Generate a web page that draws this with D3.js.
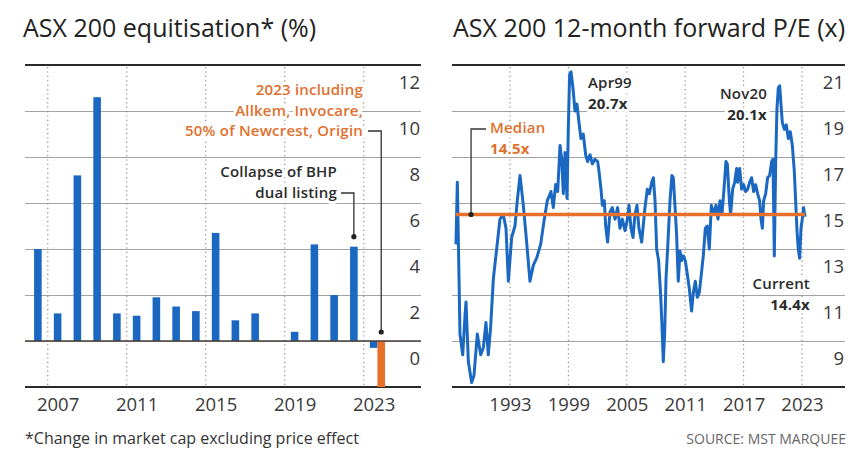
<!DOCTYPE html>
<html>
<head>
<meta charset="utf-8">
<script src="https://cdn.jsdelivr.net/npm/d3@7"></script>
<style>
  body { margin: 0; background: #fff; }
  svg text { font-family: "Open Sans", "DejaVu Sans", sans-serif; }
  .grid line { stroke: #a3a3a3; stroke-width: 1; }
  .grid .domain { display: none; }
  .axis .domain { display: none; }
  .axis text { font-size: 18.5px; fill: #3a3a3a; }
  .halo { stroke: #fff; stroke-width: 6; stroke-linejoin: round; paint-order: stroke; }
</style>
</head>
<body>
<div id="graphic"></div>
<script>
// ---- left chart: ASX 200 equitisation (%) ----
const eqYears = [2006, 2007, 2008, 2009, 2010, 2011, 2012, 2013, 2014, 2015, 2016, 2017, 2018, 2019, 2020, 2021, 2022, 2023];
const eqValues = [4.0, 1.2, 7.2, 10.6, 1.2, 1.1, 1.9, 1.5, 1.3, 4.7, 0.9, 1.2, 0, 0.4, 4.2, 2.0, 4.1, -0.3];
// 2023 including Allkem, Invocare, 50% of Newcrest, Origin
const eqDealYear = 2023;
const eqDealValue = -2.0;
const eqYTicks = [0, 2, 4, 6, 8, 10, 12];
const eqXTicks = [2007, 2011, 2015, 2019, 2023];

// ---- right chart: ASX 200 12-month forward P/E (x) ----
const peDates = [1987.45, 1987.59, 1987.73, 1987.86, 1988.14, 1988.38, 1988.48, 1988.72, 1989.06, 1989.30,
  1989.64, 1989.99, 1990.26, 1990.53, 1990.77, 1991.01, 1991.29, 1991.63, 1991.97, 1992.31,
  1992.59, 1992.83, 1993.17, 1993.51, 1993.75, 1994.03, 1994.37, 1994.71, 1995.05, 1995.40,
  1995.74, 1996.15, 1996.49, 1996.83, 1997.21, 1997.45, 1997.69, 1997.90, 1998.14, 1998.31,
  1998.48, 1998.65, 1998.86, 1998.99, 1999.13, 1999.27, 1999.47, 1999.68, 1999.88, 2000.09,
  2000.29, 2000.53, 2000.77, 2000.98, 2001.22, 2001.46, 2001.73, 2002.01, 2002.14, 2002.35,
  2002.49, 2002.69, 2002.83, 2003.03, 2003.27, 2003.51, 2003.79, 2004.06, 2004.30, 2004.54,
  2004.82, 2005.02, 2005.23, 2005.43, 2005.64, 2005.84, 2006.05, 2006.25, 2006.53, 2006.87,
  2007.11, 2007.32, 2007.56, 2007.73, 2007.90, 2008.07, 2008.27, 2008.48, 2008.62, 2008.75,
  2008.89, 2009.03, 2009.23, 2009.44, 2009.64, 2009.78, 2009.95, 2010.12, 2010.29, 2010.47,
  2010.64, 2010.81, 2011.01, 2011.22, 2011.42, 2011.66, 2011.84, 2012.04, 2012.25, 2012.45,
  2012.66, 2012.86, 2013.07, 2013.27, 2013.48, 2013.69, 2013.89, 2014.17, 2014.37, 2014.58,
  2014.78, 2014.99, 2015.19, 2015.33, 2015.54, 2015.67, 2015.88, 2016.08, 2016.29, 2016.39,
  2016.60, 2016.80, 2017.01, 2017.21, 2017.42, 2017.62, 2017.83, 2018.03, 2018.24, 2018.45,
  2018.65, 2018.79, 2018.93, 2019.06, 2019.27, 2019.47, 2019.68, 2019.88, 2020.02, 2020.16,
  2020.30, 2020.43, 2020.57, 2020.71, 2020.84, 2020.98, 2021.19, 2021.39, 2021.60, 2021.80,
  2022.01, 2022.21, 2022.35, 2022.49, 2022.62, 2022.76, 2022.90, 2023.03, 2023.17, 2023.31];
const peValues = [13.2, 15.9, 12.5, 9.3, 8.4, 10.1, 10.7, 8.1, 7.2, 7.5,
  9.3, 8.4, 8.7, 9.8, 8.4, 9.6, 11.7, 13.0, 14.3, 14.5,
  13.9, 11.6, 13.5, 14.0, 15.1, 16.2, 14.9, 13.3, 11.6, 12.3,
  12.6, 13.2, 14.2, 15.1, 15.5, 14.8, 15.8, 15.5, 17.5, 16.9,
  15.4, 17.2, 15.2, 18.2, 20.6, 20.7, 20.0, 19.0, 19.3, 18.5,
  17.8, 18.0, 17.1, 16.8, 17.1, 16.7, 16.9, 16.8, 16.4, 15.6,
  14.9, 15.1, 14.0, 13.3, 14.6, 14.8, 14.3, 14.8, 13.9, 14.3,
  13.8, 14.2, 14.9, 13.9, 13.5, 14.5, 14.9, 13.9, 13.3, 14.8,
  15.6, 15.4, 15.9, 16.1, 15.1, 13.0, 12.5, 11.0, 9.6, 8.1,
  9.3, 11.7, 13.3, 15.1, 16.2, 16.1, 14.9, 13.6, 11.6, 12.9,
  12.5, 12.7, 12.5, 11.9, 11.3, 10.3, 11.1, 11.6, 10.9, 11.1,
  11.9, 12.7, 13.9, 14.0, 13.0, 14.9, 14.5, 14.9, 14.3, 15.1,
  14.5, 15.6, 16.8, 16.7, 15.1, 14.5, 15.6, 15.9, 16.5, 15.9,
  16.5, 15.6, 15.8, 15.5, 15.6, 15.9, 16.1, 15.5, 15.8, 15.4,
  15.1, 14.3, 13.9, 15.1, 15.4, 16.1, 16.2, 16.8, 16.9, 12.7,
  16.8, 19.1, 20.0, 20.1, 19.3, 18.5, 18.2, 18.4, 17.8, 18.1,
  17.5, 16.4, 15.1, 13.8, 13.0, 12.6, 13.9, 14.3, 14.8, 14.4];
const peMedian = 14.5;
const peYTicks = [9, 11, 13, 15, 17, 19, 21];
const peXTicks = [1993, 1999, 2005, 2011, 2017, 2023];

const blue = '#1b68c3';
const orange = '#e8702b';
const orangeText = '#e0702e';
const dark = '#2b2b2b';

const width = 854, height = 450;

const svg = d3.select('#graphic')
  .append('svg')
  .attr('width', width)
  .attr('height', height)
  .style('background', '#fff');

// shared vertical layout
const plotTop = 65, plotBottom = 387;

// leader line + dot helper
function leader(points, dot) {
  svg.append('path')
    .attr('d', d3.line()(points))
    .attr('fill', 'none')
    .attr('stroke', '#333')
    .attr('stroke-width', 1.3);
  svg.append('circle')
    .attr('cx', dot[0]).attr('cy', dot[1]).attr('r', 2.6)
    .attr('fill', '#222');
}

// multi-line annotation, one text element with a tspan per line
function label(lines, x, y, anchor, colour) {
  const t = svg.append('text')
    .attr('class', 'halo')
    .attr('x', x)
    .attr('y', y)
    .attr('text-anchor', anchor)
    .attr('fill', colour)
    .style('font-size', '15px')
    .style('letter-spacing', '0.2px');
  lines.forEach((l, i) => {
    t.append('tspan')
      .attr('x', x)
      .attr('dy', i === 0 ? 0 : 20.5)
      .style('font-weight', l.bold ? 700 : 600)
      .text(l.text);
  });
}

function panel(opts) {
  const { x, y, left, right, yTicks, xTicks, xLabelShift } = opts;

  // horizontal grid
  svg.append('g')
    .attr('class', 'grid')
    .attr('transform', `translate(${left},0)`)
    .call(d3.axisLeft(y).tickValues(yTicks).tickSize(-(right - left)).tickFormat(''))
    .call(g => g.selectAll('.tick line').attr('x1', 0));

  // dotted year lines
  svg.append('g')
    .selectAll('line')
    .data(xTicks)
    .join('line')
    .attr('x1', d => x(d)).attr('x2', d => x(d))
    .attr('y1', plotTop + 2).attr('y2', plotBottom - 1)
    .attr('stroke', '#8a8a8a')
    .attr('stroke-width', 1.2)
    .attr('stroke-dasharray', '1.2,3.2');

  // top and bottom rules
  [plotTop, plotBottom].forEach(yy => {
    svg.append('line')
      .attr('x1', left).attr('x2', right)
      .attr('y1', yy).attr('y2', yy)
      .attr('stroke', '#2a2a2a')
      .attr('stroke-width', 2);
  });

  // y labels, sitting just under their gridline
  svg.append('g')
    .attr('class', 'axis')
    .attr('transform', `translate(${right - 1},0)`)
    .call(d3.axisLeft(y).tickValues(yTicks).tickSize(0).tickPadding(0))
    .call(g => g.selectAll('text').attr('dy', null).attr('y', 23));

  // x labels
  svg.append('g')
    .attr('class', 'axis')
    .attr('transform', `translate(0,${plotBottom})`)
    .call(d3.axisBottom(x).tickValues(xTicks.map(d => d + xLabelShift)).tickSize(0).tickFormat(d => Math.floor(d)))
    .call(g => g.selectAll('text').attr('dy', null).attr('y', 24));
}

// ===== left: equitisation bars =====
const eqX = d3.scaleLinear().domain([2006, 2026]).range([28, 423]);
const eqY = d3.scaleLinear().domain([-2, 12]).range([plotBottom, plotTop]);
const barW = 7.6;

panel({ x: eqX, y: eqY, left: 25, right: 421, yTicks: eqYTicks, xTicks: eqXTicks, xLabelShift: 0.5 });

svg.append('g')
  .selectAll('rect')
  .data(eqYears.map((yr, i) => ({ year: yr, value: eqValues[i] })).filter(d => d.value !== 0))
  .join('rect')
  .attr('x', d => eqX(d.year + 0.5) - barW / 2)
  .attr('y', d => eqY(Math.max(0, d.value)))
  .attr('width', barW)
  .attr('height', d => Math.abs(eqY(d.value) - eqY(0)))
  .attr('fill', blue);

svg.append('rect')
  .attr('x', eqX(eqDealYear + 0.5) + barW / 2)
  .attr('y', eqY(0))
  .attr('width', barW)
  .attr('height', eqY(eqDealValue) - eqY(0))
  .attr('fill', orange);

// zero line
svg.append('line')
  .attr('x1', 25).attr('x2', 421)
  .attr('y1', eqY(0)).attr('y2', eqY(0))
  .attr('stroke', '#4a4038')
  .attr('stroke-width', 1.6);

// annotations
const bhpX = eqX(2022.5);
leader([[341, 193], [bhpX, 193], [bhpX, eqY(eqValues[16]) - 10]], [bhpX, eqY(eqValues[16]) - 10]);
label([{ text: 'Collapse of BHP' }, { text: 'dual listing' }], 337, 177, 'end', dark);

const dealX = eqX(eqDealYear + 0.5) + barW;
leader([[368, 131], [dealX, 131], [dealX, eqY(0) - 9]], [dealX, eqY(0) - 9]);
label([{ text: '2023 including' }, { text: 'Allkem, Invocare,' }, { text: '50% of Newcrest, Origin' }], 363, 95, 'end', orangeText);

// ===== right: forward P/E line =====
const peX = d3.scaleLinear().domain([1987, 2027]).range([451.6, 840.9]);
const peY = d3.scaleLinear().domain([7, 21]).range([plotBottom, plotTop]);
const peData = peDates.map((d, i) => ({ date: d, value: peValues[i] }));

panel({ x: peX, y: peY, left: 452, right: 845, yTicks: peYTicks, xTicks: peXTicks, xLabelShift: 0 });

svg.append('path')
  .datum(peData)
  .attr('fill', 'none')
  .attr('stroke', blue)
  .attr('stroke-width', 3)
  .attr('stroke-linejoin', 'round')
  .attr('d', d3.line().x(d => peX(d.date)).y(d => peY(d.value)));

const [d0, d1] = d3.extent(peDates);
svg.append('line')
  .attr('x1', peX(d0)).attr('x2', peX(d1))
  .attr('y1', peY(peMedian)).attr('y2', peY(peMedian))
  .attr('stroke', orange)
  .attr('stroke-width', 3.5);

const medX = peX(1989);
leader([[486, 129], [medX, 129], [medX, peY(peMedian)]], [medX, peY(peMedian)]);
label([{ text: 'Median' }, { text: '14.5x', bold: true }], 490, 133, 'start', orangeText);

label([{ text: 'Apr99' }, { text: '20.7x', bold: true }], 588, 88, 'start', dark);
label([{ text: 'Nov20' }, { text: '20.1x', bold: true }], 767, 99, 'end', dark);
label([{ text: 'Current' }, { text: '14.4x', bold: true }], 810, 289, 'end', dark);

// ===== titles and footer =====
svg.append('text')
  .attr('x', 23).attr('y', 37)
  .attr('fill', '#222')
  .style('font-size', '25px')
  .text('ASX 200 equitisation* (%)');

svg.append('text')
  .attr('x', 453).attr('y', 37)
  .attr('fill', '#222')
  .style('font-size', '25px')
  .text('ASX 200 12-month forward P/E (x)');

svg.append('text')
  .attr('x', 25).attr('y', 444)
  .attr('fill', '#333')
  .style('font-size', '16px')
  .text('*Change in market cap excluding price effect');

svg.append('text')
  .attr('x', 846).attr('y', 444)
  .attr('text-anchor', 'end')
  .attr('fill', '#666')
  .style('font-size', '14px')
  .text('SOURCE: MST MARQUEE');
</script>
</body>
</html>
